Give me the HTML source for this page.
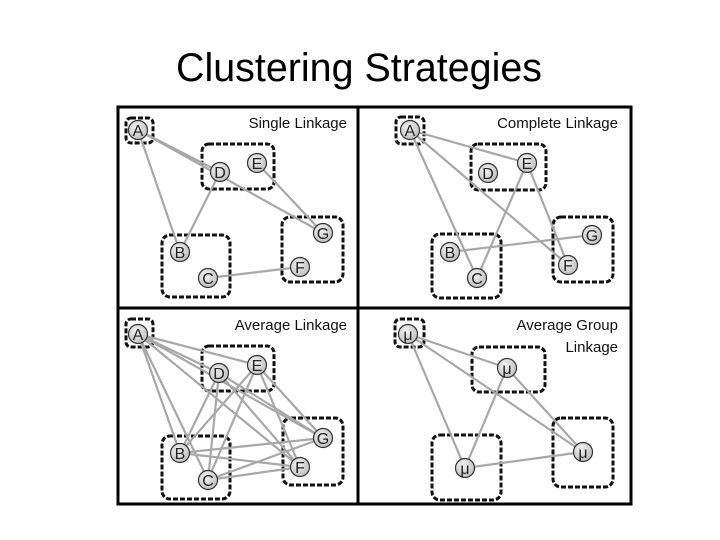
<!DOCTYPE html>
<html><head><meta charset="utf-8"><style>
html,body{margin:0;padding:0;background:#fff;}
svg{display:block;}
text{font-family:"Liberation Sans",sans-serif;}
</style></head><body>
<svg width="720" height="540" viewBox="0 0 720 540" xmlns="http://www.w3.org/2000/svg">
<defs>
<radialGradient id="g" cx="40%" cy="35%" r="70%"><stop offset="0" stop-color="#f2f2f2"/><stop offset="1" stop-color="#bdbdbd"/></radialGradient>
</defs>
<text x="359" y="81" font-size="40" text-anchor="middle" textLength="366" lengthAdjust="spacingAndGlyphs">Clustering Strategies</text>
<g fill="none" stroke="#000" stroke-width="3">
<rect x="118" y="107" width="513" height="397"/>
<line x1="358" y1="107" x2="358" y2="504"/>
<line x1="118" y1="308" x2="631" y2="308"/>
</g>
<g font-size="15" fill="#111">
<text x="347" y="128" text-anchor="end">Single Linkage</text>
<text x="618" y="128" text-anchor="end">Complete Linkage</text>
<text x="347" y="330" text-anchor="end">Average Linkage</text>
<text x="618" y="330" text-anchor="end">Average Group</text>
<text x="618" y="352" text-anchor="end">Linkage</text>
</g>
<g fill="none" stroke="#111" stroke-width="3" stroke-dasharray="5,2">
<rect x="126" y="118" width="27" height="25" rx="5"/>
<rect x="202" y="144" width="72" height="45" rx="7"/>
<rect x="162" y="235" width="68" height="62" rx="8"/>
<rect x="282" y="217" width="61" height="65" rx="8"/>
<rect x="396" y="117" width="28" height="27" rx="5"/>
<rect x="471" y="144" width="75" height="46" rx="7"/>
<rect x="432" y="234" width="69" height="64" rx="8"/>
<rect x="553" y="217" width="60" height="65" rx="8"/>
<rect x="126" y="319" width="27" height="28" rx="5"/>
<rect x="202" y="346" width="72" height="45" rx="7"/>
<rect x="162" y="436" width="68" height="63" rx="8"/>
<rect x="283" y="418" width="60" height="67" rx="8"/>
<rect x="395" y="319" width="29" height="28" rx="5"/>
<rect x="472" y="347" width="73" height="45" rx="7"/>
<rect x="432" y="435" width="69" height="65" rx="8"/>
<rect x="553" y="418" width="60" height="69" rx="8"/>
</g>
<g stroke="#a8a8a8" stroke-width="2.2">
<line x1="138" y1="130" x2="220" y2="172"/><line x1="138" y1="130" x2="323" y2="233"/><line x1="138" y1="130" x2="180" y2="252"/>
<line x1="220" y1="172" x2="180" y2="252"/><line x1="257" y1="163" x2="323" y2="233"/><line x1="208" y1="278" x2="300" y2="267"/>
<line x1="410" y1="130" x2="527" y2="163"/><line x1="410" y1="130" x2="477" y2="278"/><line x1="410" y1="130" x2="568" y2="265"/>
<line x1="527" y1="163" x2="477" y2="278"/><line x1="527" y1="163" x2="568" y2="265"/><line x1="450" y1="252" x2="592" y2="235"/>
<line x1="138" y1="334" x2="219" y2="373"/><line x1="138" y1="334" x2="257" y2="365"/><line x1="138" y1="334" x2="180" y2="453"/><line x1="138" y1="334" x2="208" y2="480"/><line x1="138" y1="334" x2="323" y2="438"/><line x1="138" y1="334" x2="300" y2="467"/>
<line x1="219" y1="373" x2="180" y2="453"/><line x1="219" y1="373" x2="208" y2="480"/><line x1="219" y1="373" x2="323" y2="438"/><line x1="219" y1="373" x2="300" y2="467"/>
<line x1="257" y1="365" x2="180" y2="453"/><line x1="257" y1="365" x2="208" y2="480"/><line x1="257" y1="365" x2="323" y2="438"/><line x1="257" y1="365" x2="300" y2="467"/>
<line x1="180" y1="453" x2="323" y2="438"/><line x1="180" y1="453" x2="300" y2="467"/><line x1="208" y1="480" x2="323" y2="438"/><line x1="208" y1="480" x2="300" y2="467"/>
<line x1="408" y1="334" x2="507" y2="368"/><line x1="408" y1="334" x2="465" y2="468"/><line x1="408" y1="334" x2="583" y2="452"/>
<line x1="507" y1="368" x2="465" y2="468"/><line x1="507" y1="368" x2="583" y2="452"/><line x1="465" y1="468" x2="583" y2="452"/>
</g>
<g fill="url(#g)" stroke="#333" stroke-width="1.2">
<circle cx="138" cy="130" r="9.5"/><circle cx="220" cy="172" r="9.5"/><circle cx="257" cy="163" r="9.5"/><circle cx="323" cy="233" r="9.5"/><circle cx="300" cy="267" r="9.5"/><circle cx="180" cy="252" r="9.5"/><circle cx="208" cy="278" r="9.5"/>
<circle cx="410" cy="130" r="9.5"/><circle cx="488" cy="173" r="9.5"/><circle cx="527" cy="163" r="9.5"/><circle cx="592" cy="235" r="9.5"/><circle cx="568" cy="265" r="9.5"/><circle cx="450" cy="252" r="9.5"/><circle cx="477" cy="278" r="9.5"/>
<circle cx="138" cy="334" r="9.5"/><circle cx="219" cy="373" r="9.5"/><circle cx="257" cy="365" r="9.5"/><circle cx="323" cy="438" r="9.5"/><circle cx="300" cy="467" r="9.5"/><circle cx="180" cy="453" r="9.5"/><circle cx="208" cy="480" r="9.5"/>
<circle cx="408" cy="334" r="9.5"/><circle cx="507" cy="368" r="9.5"/><circle cx="465" cy="468" r="9.5"/><circle cx="583" cy="452" r="9.5"/>
</g>
<g font-size="16" fill="#222" text-anchor="middle">
<text x="138" y="136">A</text><text x="220" y="178">D</text><text x="257" y="169">E</text><text x="323" y="239">G</text><text x="300" y="273">F</text><text x="180" y="258">B</text><text x="208" y="284">C</text>
<text x="410" y="136">A</text><text x="488" y="179">D</text><text x="527" y="169">E</text><text x="592" y="241">G</text><text x="568" y="271">F</text><text x="450" y="258">B</text><text x="477" y="284">C</text>
<text x="138" y="340">A</text><text x="219" y="379">D</text><text x="257" y="371">E</text><text x="323" y="444">G</text><text x="300" y="473">F</text><text x="180" y="459">B</text><text x="208" y="486">C</text>
<text x="408" y="340">μ</text><text x="507" y="374">μ</text><text x="465" y="474">μ</text><text x="583" y="458">μ</text>
</g>
</svg>
</body></html>
